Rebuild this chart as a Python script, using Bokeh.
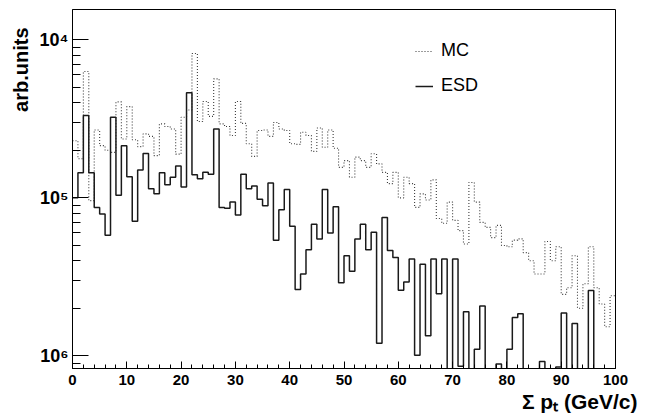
import numpy as np
from bokeh.plotting import figure
from bokeh.models import (Range1d, FixedTicker, CustomJSTickFormatter, Title,
                          Legend, LegendItem)
from bokeh.embed import file_html
from bokeh.resources import INLINE

# ---- data (bins of 1 GeV/c from 0 to 100) ----
bin_edges = np.arange(0, 101)

esd = [1.0e-5, 1.44e-5, 3.32e-5, 1.44e-5, 8.7e-6, 7.9e-6, 5.8e-6, 3.24e-5, 1.04e-5, 2.14e-5,
       1.36e-5, 7.1e-6, 1.50e-5, 1.91e-5, 1.14e-5, 1.06e-5, 1.44e-5, 1.21e-5, 1.35e-5, 1.59e-5,
       1.17e-5, 4.62e-5, 1.40e-5, 1.32e-5, 1.45e-5, 1.41e-5, 2.73e-5, 8.7e-6, 8.6e-6, 9.4e-6,
       7.8e-6, 1.41e-5, 1.14e-5, 1.19e-5, 9.8e-6, 8.9e-6, 1.24e-5, 5.4e-6, 8.4e-6, 1.13e-5,
       6.6e-6, 2.63e-6, 3.3e-6, 4.7e-6, 6.8e-6, 5.5e-6, 1.13e-5, 6.0e-6, 8.8e-6, 2.9e-6,
       4.3e-6, 3.43e-6, 5.5e-6, 6.8e-6, 4.7e-6, 6.06e-6, 1.2e-6, 7.5e-6, 4.64e-6, 4.2e-6,
       2.6e-6, 2.93e-6, 4.1e-6, 1.01e-6, 3.8e-6, 1.34e-6, 4.1e-6, 2.47e-6, 4.1e-6, 0.0,
       4.1e-6, 8.6e-7, 1.9e-6, 0.0, 1.1e-6, 2.07e-6, 0.0, 0.0, 8.9e-7, 0.0,
       1.1e-6, 1.75e-6, 1.85e-6, 0.0, 0.0, 0.0, 9.2e-7, 0.0, 0.0, 8.5e-7,
       1.87e-6, 0.0, 1.6e-6, 0.0, 0.0, 2.59e-6, 0.0, 0.0, 0.0, 0.0]

mc = [2.30e-5, 1.77e-5, 6.3e-5, 9.6e-6, 2.69e-5, 2.14e-5, 2.0e-5, 1.94e-5, 4.05e-5, 2.36e-5,
      3.78e-5, 2.33e-5, 2.11e-5, 2.54e-5, 2.45e-5, 1.85e-5, 2.94e-5, 2.83e-5, 2.73e-5, 1.89e-5,
      3.24e-5, 3.6e-5, 8.2e-5, 3.04e-5, 4.07e-5, 3.28e-5, 5.66e-5, 2.94e-5, 2.83e-5, 2.48e-5,
      4.07e-5, 2.96e-5, 2.2e-5, 1.83e-5, 2.67e-5, 2.69e-5, 2.45e-5, 3.0e-5, 2.73e-5, 2.67e-5,
      2.2e-5, 2.18e-5, 2.6e-5, 2.48e-5, 1.97e-5, 2.77e-5, 2.09e-5, 2.69e-5, 2.06e-5, 1.56e-5,
      1.72e-5, 1.35e-5, 1.81e-5, 1.72e-5, 1.56e-5, 1.90e-5, 1.64e-5, 1.45e-5, 1.23e-5, 1.45e-5,
      1.0e-5, 1.35e-5, 1.23e-5, 8.7e-6, 1.06e-5, 9.7e-6, 1.30e-5, 7.4e-6, 6.9e-6, 9.4e-6,
      7.2e-6, 6.2e-6, 5.1e-6, 1.25e-5, 9.4e-6, 7.0e-6, 6.5e-6, 5.6e-6, 6.7e-6, 5.0e-6,
      4.9e-6, 5.4e-6, 5.5e-6, 4.5e-6, 4.0e-6, 3.3e-6, 3.3e-6, 5.3e-6, 4.0e-6, 4.9e-6,
      2.45e-6, 2.7e-6, 4.3e-6, 2.0e-6, 2.86e-6, 4.9e-6, 2.7e-6, 2.13e-6, 1.53e-6, 2.4e-6]

x_major = [0, 10, 20, 30, 40, 50, 60, 70, 80, 90, 100]
x_minor = [v for v in range(0, 101, 2) if v % 10 != 0]
y_major = [1e-6, 1e-5, 1e-4]
y_minor = [k * 10.0 ** e for e in (-7, -6, -5, -4) for k in range(2, 10)]

legend_labels = ["MC", "ESD"]
y_title = "arb.units"
x_title = "\u03a3 p\u209c (GeV/c)"

# ---- figure ----
W, H = 649, 419
XMIN, XMAX = 0, 100
YMIN, YMAX = 8.32e-7, 1.556e-4
FONT = "Liberation Sans"

p = figure(width=W, height=H, output_backend="svg", toolbar_location=None,
           y_axis_type="log", x_range=Range1d(XMIN, XMAX), y_range=Range1d(YMIN, YMAX),
           min_border_left=72, min_border_right=34, min_border_top=9, min_border_bottom=51)
p.background_fill_color = "white"
p.border_fill_color = "white"
p.outline_line_color = "black"
p.outline_line_width = 1
p.xgrid.visible = False
p.ygrid.visible = False

floor = YMIN * 1e-3
mc_arr = np.array(mc)
esd_arr = np.array(esd)
mc_y = np.append(np.where(mc_arr > 0, mc_arr, floor), max(mc[-1], floor))
esd_y = np.append(np.where(esd_arr > 0, esd_arr, floor), max(esd[-1], floor))

r_mc = p.step(bin_edges, mc_y, mode="after", line_color="#3a3a3a", line_width=1.1,
              line_dash="1 2")
r_esd = p.step(bin_edges, esd_y, mode="after", line_color="#1a1a1a", line_width=1.5)

# ---- axes (ROOT style: ticks inside the frame) ----
xa = p.xaxis[0]
xa.ticker = FixedTicker(ticks=x_major, minor_ticks=x_minor)
xa.major_tick_in = 7
xa.major_tick_out = 0
xa.minor_tick_in = 4
xa.minor_tick_out = 0
xa.axis_line_color = "black"
xa.major_label_standoff = 6
xa.major_label_text_font = FONT
xa.major_label_text_font_style = "bold"
xa.major_label_text_font_size = "15px"
xa.major_label_text_color = "black"

ya = p.yaxis[0]
ya.ticker = FixedTicker(ticks=y_major, minor_ticks=y_minor)
ya.formatter = CustomJSTickFormatter(code="""
const sup = {4: "\u2074", 5: "\u2075", 6: "\u2076"};
const e = Math.round(-Math.log10(tick));
return "10" + (sup[e] || "");
""")
ya.major_tick_in = 16
ya.major_tick_out = 0
ya.minor_tick_in = 8
ya.minor_tick_out = 0
ya.axis_line_color = "black"
ya.major_label_standoff = 4
ya.major_label_text_font = FONT
ya.major_label_text_font_style = "bold"
ya.major_label_text_font_size = "18px"
ya.major_label_text_color = "black"

# ---- axis titles at the axis ends, as ROOT does ----
p.add_layout(Title(text=y_title, align="right", offset=18, standoff=10,
                   text_font=FONT, text_font_style="bold", text_font_size="20px",
                   text_color="black"), "left")
p.add_layout(Title(text=x_title, align="right", offset=-22, standoff=0,
                   text_font=FONT, text_font_style="bold", text_font_size="21px",
                   text_color="black"), "below")

# ---- legend ----
legend = Legend(items=[LegendItem(label=legend_labels[0], renderers=[r_mc]),
                       LegendItem(label=legend_labels[1], renderers=[r_esd])],
                location=(343, 272), border_line_color=None, background_fill_alpha=0,
                padding=0, margin=0, spacing=14, glyph_width=18, glyph_height=20,
                label_height=20, label_standoff=8, label_text_font=FONT,
                label_text_font_size="18px", label_text_color="black")
p.add_layout(legend)

open("out.html", "w").write(file_html(p, INLINE))
